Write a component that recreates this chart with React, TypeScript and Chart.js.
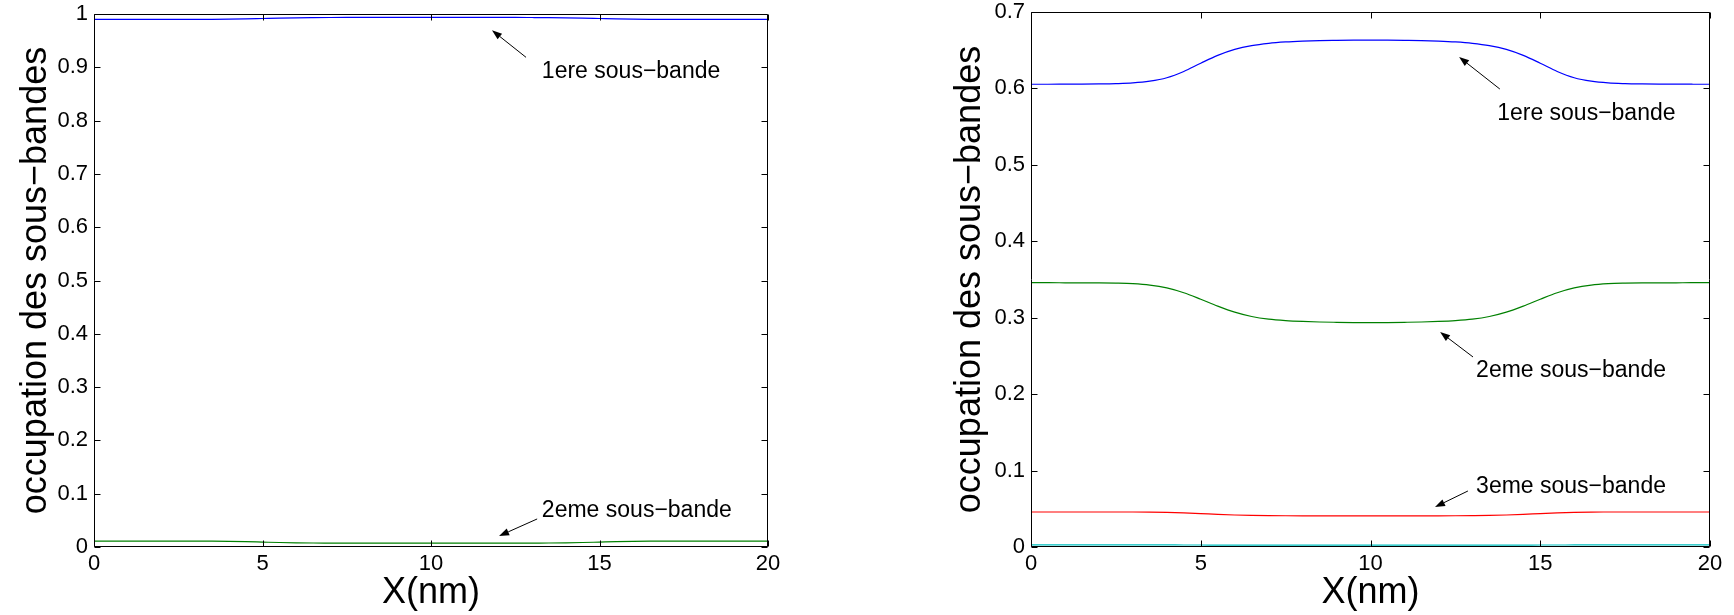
import React, { useEffect, useRef } from 'react';
import { Chart, registerables } from 'chart.js';

Chart.register(...registerables);

// ---------- data ----------
const xPositions = [
  0, 0.5, 1, 1.5, 2, 2.5, 3, 3.5, 4, 4.5, 5, 5.5, 6, 6.5, 7, 7.5, 8, 8.5, 9, 9.5, 10,
  10.5, 11, 11.5, 12, 12.5, 13, 13.5, 14, 14.5, 15, 15.5, 16, 16.5, 17, 17.5, 18, 18.5, 19, 19.5, 20,
];

const xTickValues = [0, 5, 10, 15, 20];
const xTickLabels = ['0', '5', '10', '15', '20'];
const yTickValuesLeft = [0, 0.1, 0.2, 0.3, 0.4, 0.5, 0.6, 0.7, 0.8, 0.9, 1];
const yTickLabelsLeft = ['0', '0.1', '0.2', '0.3', '0.4', '0.5', '0.6', '0.7', '0.8', '0.9', '1'];
const yTickValuesRight = [0, 0.1, 0.2, 0.3, 0.4, 0.5, 0.6, 0.7];
const yTickLabelsRight = ['0', '0.1', '0.2', '0.3', '0.4', '0.5', '0.6', '0.7'];

// left panel
const leftBand1 = [
  0.9898, 0.9898, 0.9898, 0.9898, 0.9898, 0.9898, 0.9898, 0.9899, 0.9902, 0.9908, 0.9916,
  0.9924, 0.9929, 0.9932, 0.9934, 0.9935, 0.9935, 0.9935, 0.9935, 0.9935, 0.9935, 0.9935,
  0.9935, 0.9935, 0.9935, 0.9935, 0.9934, 0.9932, 0.9929, 0.9924, 0.9916, 0.9908, 0.9902,
  0.9899, 0.9898, 0.9898, 0.9898, 0.9898, 0.9898, 0.9898, 0.9898,
];
const leftBand2 = [
  0.011, 0.011, 0.011, 0.011, 0.011, 0.011, 0.011, 0.0109, 0.0106, 0.01, 0.0092,
  0.0084, 0.0078, 0.0075, 0.0074, 0.0073, 0.0073, 0.0073, 0.0073, 0.0073, 0.0073, 0.0073,
  0.0073, 0.0073, 0.0073, 0.0073, 0.0074, 0.0075, 0.0078, 0.0084, 0.0092, 0.01, 0.0106,
  0.0109, 0.011, 0.011, 0.011, 0.011, 0.011, 0.011, 0.011,
];
const leftBand3 = [
  0.0004, 0.0004, 0.0004, 0.0004, 0.0004, 0.0004, 0.0004, 0.0004, 0.0004, 0.0004, 0.0003,
  0.0003, 0.0003, 0.0003, 0.0003, 0.0003, 0.0003, 0.0003, 0.0003, 0.0003, 0.0003, 0.0003,
  0.0003, 0.0003, 0.0003, 0.0003, 0.0003, 0.0003, 0.0003, 0.0003, 0.0003, 0.0004, 0.0004,
  0.0004, 0.0004, 0.0004, 0.0004, 0.0004, 0.0004, 0.0004, 0.0004,
];
const leftBand4 = [
  0, 0, 0, 0, 0, 0, 0, 0, 0, 0, 0, 0, 0, 0, 0, 0, 0, 0, 0, 0, 0,
  0, 0, 0, 0, 0, 0, 0, 0, 0, 0, 0, 0, 0, 0, 0, 0, 0, 0, 0, 0,
];

// right panel
const rightBand1 = [
  0.6055, 0.6055, 0.6056, 0.6057, 0.6059, 0.6063, 0.6072, 0.6095, 0.614, 0.6222, 0.633,
  0.6432, 0.651, 0.656, 0.659, 0.6608, 0.6619, 0.6626, 0.6629, 0.6631, 0.6632, 0.6631,
  0.6629, 0.6626, 0.6619, 0.6608, 0.659, 0.656, 0.651, 0.6432, 0.633, 0.6222, 0.614,
  0.6095, 0.6072, 0.6063, 0.6059, 0.6057, 0.6056, 0.6055, 0.6055,
];
const rightBand2 = [
  0.3458, 0.3458, 0.3457, 0.3456, 0.3455, 0.3452, 0.3445, 0.3427, 0.339, 0.3327, 0.3242,
  0.3152, 0.3073, 0.3016, 0.2981, 0.2962, 0.2951, 0.2944, 0.294, 0.2937, 0.2936, 0.2937,
  0.294, 0.2944, 0.2951, 0.2962, 0.2981, 0.3016, 0.3073, 0.3152, 0.3242, 0.3327, 0.339,
  0.3427, 0.3445, 0.3452, 0.3455, 0.3456, 0.3457, 0.3458, 0.3458,
];
const rightBand3 = [
  0.0458, 0.0458, 0.0458, 0.0458, 0.0458, 0.0458, 0.0458, 0.0457, 0.0453, 0.0446, 0.0437,
  0.0427, 0.0419, 0.0414, 0.0411, 0.0409, 0.0408, 0.04075, 0.0407, 0.04065, 0.0406, 0.04065,
  0.0407, 0.04075, 0.0408, 0.0409, 0.0411, 0.0414, 0.0419, 0.0427, 0.0437, 0.0446, 0.0453,
  0.0457, 0.0458, 0.0458, 0.0458, 0.0458, 0.0458, 0.0458, 0.0458,
];
const rightBand4 = [
  0.0027, 0.0027, 0.0027, 0.0027, 0.0027, 0.0027, 0.0027, 0.0027, 0.0027, 0.0026, 0.0026,
  0.0025, 0.0025, 0.0025, 0.0025, 0.0025, 0.0025, 0.0025, 0.0025, 0.0025, 0.0025, 0.0025,
  0.0025, 0.0025, 0.0025, 0.0025, 0.0025, 0.0025, 0.0025, 0.0025, 0.0026, 0.0026, 0.0027,
  0.0027, 0.0027, 0.0027, 0.0027, 0.0027, 0.0027, 0.0027, 0.0027,
];
const rightBand5 = [
  0.0002, 0.0002, 0.0002, 0.0002, 0.0002, 0.0002, 0.0002, 0.0002, 0.0002, 0.0002, 0.0002,
  0.0002, 0.0002, 0.0002, 0.0002, 0.0002, 0.0002, 0.0002, 0.0002, 0.0002, 0.0002, 0.0002,
  0.0002, 0.0002, 0.0002, 0.0002, 0.0002, 0.0002, 0.0002, 0.0002, 0.0002, 0.0002, 0.0002,
  0.0002, 0.0002, 0.0002, 0.0002, 0.0002, 0.0002, 0.0002, 0.0002,
];
const rightBand6 = [
  0, 0, 0, 0, 0, 0, 0, 0, 0, 0, 0, 0, 0, 0, 0, 0, 0, 0, 0, 0, 0,
  0, 0, 0, 0, 0, 0, 0, 0, 0, 0, 0, 0, 0, 0, 0, 0, 0, 0, 0, 0,
];

const bandNames = ['1ere sous−bande', '2eme sous−bande', '3eme sous−bande', '4eme sous−bande', '5eme sous−bande', '6eme sous−bande'];
const xTitle = 'X(nm)';
const yTitle = 'occupation des sous−bandes';

// annotations: text anchor (tx, ty), arrow tail (ax, ay), arrow head (hx, hy), in data units
const leftAnnotations = [
  { text: bandNames[0], tx: 13.29, ty: 0.892, ax: 12.82, ay: 0.9187, hx: 11.81, hy: 0.9694 },
  { text: bandNames[1], tx: 13.29, ty: 0.0676, ax: 13.15, ay: 0.0526, hx: 12.02, hy: 0.0207 },
];
const rightAnnotations = [
  { text: bandNames[0], tx: 13.73, ty: 0.5665, ax: 13.81, ay: 0.5992, hx: 12.61, hy: 0.6411 },
  { text: bandNames[1], tx: 13.11, ty: 0.2303, ax: 13.02, ay: 0.2486, hx: 12.05, hy: 0.2813 },
  { text: bandNames[2], tx: 13.11, ty: 0.0785, ax: 12.87, ay: 0.0733, hx: 11.9, hy: 0.0523 },
];

// ---------- styling ----------
const FONT = '"Liberation Sans", Arial, Helvetica, sans-serif';
const COLORS = {
  blue: '#0000ff',
  green: '#008000',
  red: '#ff0000',
  cyan: '#00bfbf',
  magenta: '#bf00bf',
  yellow: '#a89410',
};

type Annot = { text: string; tx: number; ty: number; ax: number; ay: number; hx: number; hy: number };

function toPoints(ys: number[]) {
  return xPositions.map((x, i) => ({ x, y: ys[i] }));
}

function makeDataset(ys: number[], color: string, label: string) {
  return {
    label,
    data: toPoints(ys),
    borderColor: color,
    backgroundColor: color,
    borderWidth: 1.2,
    pointRadius: 0,
    fill: false,
    cubicInterpolationMode: 'monotone' as const,
  };
}

const axesPlugin = {
  id: 'matlabAxes',
  afterDraw(chart: any) {
    const { ctx, chartArea: a, scales } = chart;
    const xs = scales.x;
    const ys = scales.y;
    ctx.save();
    ctx.strokeStyle = '#000';
    ctx.lineWidth = 1;
    const L = Math.round(a.left) + 0.5;
    const R = Math.round(a.right) - 0.5;
    const T = Math.round(a.top) + 0.5;
    const B = Math.round(a.bottom) - 0.5;
    ctx.beginPath();
    ctx.rect(L, T, R - L, B - T);
    ctx.stroke();
    const tl = 6;
    ctx.beginPath();
    xs.ticks.forEach((t: any) => {
      const px = Math.round(xs.getPixelForValue(t.value)) + 0.5;
      ctx.moveTo(px, B);
      ctx.lineTo(px, B - tl);
      ctx.moveTo(px, T);
      ctx.lineTo(px, T + tl);
    });
    ys.ticks.forEach((t: any) => {
      const py = Math.round(ys.getPixelForValue(t.value)) + 0.5;
      ctx.moveTo(L, py);
      ctx.lineTo(L + tl, py);
      ctx.moveTo(R, py);
      ctx.lineTo(R - tl, py);
    });
    ctx.stroke();

    const annots: Annot[] = chart.options.plugins.matlabAxes?.annotations || [];
    ctx.fillStyle = '#000';
    ctx.font = `23px ${FONT}`;
    ctx.textAlign = 'left';
    ctx.textBaseline = 'middle';
    annots.forEach((an) => {
      const tx = xs.getPixelForValue(an.tx);
      const ty = ys.getPixelForValue(an.ty);
      ctx.fillText(an.text, tx, ty);
      const ax = xs.getPixelForValue(an.ax);
      const ay = ys.getPixelForValue(an.ay);
      const hx = xs.getPixelForValue(an.hx);
      const hy = ys.getPixelForValue(an.hy);
      const ang = Math.atan2(hy - ay, hx - ax);
      const hl = 10;
      const hw = 3.6;
      const bx = hx - hl * Math.cos(ang);
      const by = hy - hl * Math.sin(ang);
      ctx.beginPath();
      ctx.moveTo(ax, ay);
      ctx.lineTo(bx, by);
      ctx.stroke();
      ctx.beginPath();
      ctx.moveTo(hx, hy);
      ctx.lineTo(bx + hw * Math.sin(ang), by - hw * Math.cos(ang));
      ctx.lineTo(bx - hw * Math.sin(ang), by + hw * Math.cos(ang));
      ctx.closePath();
      ctx.fill();
    });
    ctx.restore();
  },
};

type PanelCfg = {
  width: number;
  height: number;
  areaLeft: number;
  areaRight: number;
  areaTop: number;
  areaBottom: number;
  yMax: number;
  yTickValues: number[];
  yTickLabels: string[];
  datasets: any[];
  annotations: Annot[];
  yTitlePad: number;
};

function buildConfig(p: PanelCfg): any {
  return {
    type: 'line',
    data: { datasets: p.datasets },
    plugins: [axesPlugin],
    options: {
      animation: false,
      responsive: false,
      devicePixelRatio: 1,
      events: [],
      layout: {
        padding: { left: 0, top: p.areaTop, right: p.width - p.areaRight, bottom: 0 },
      },
      plugins: {
        legend: { display: false },
        tooltip: { enabled: false },
        matlabAxes: { annotations: p.annotations },
      },
      scales: {
        x: {
          type: 'linear',
          min: 0,
          max: 20,
          grid: { display: false, drawTicks: false },
          border: { display: false },
          afterBuildTicks: (scale: any) => {
            scale.ticks = xTickValues.map((v) => ({ value: v }));
          },
          ticks: {
            autoSkip: false,
            maxRotation: 0,
            minRotation: 0,
            padding: 4,
            color: '#000',
            font: { family: FONT, size: 22 },
            callback: (_v: any, i: number) => xTickLabels[i],
          },
          title: {
            display: true,
            text: xTitle,
            color: '#000',
            font: { family: FONT, size: 36 },
            padding: { top: 0, bottom: 0 },
          },
          afterFit: (scale: any) => {
            scale.height = p.height - p.areaBottom;
            scale.paddingLeft = 0;
            scale.paddingRight = 0;
            scale.paddingTop = 0;
            scale.paddingBottom = 0;
          },
        },
        y: {
          type: 'linear',
          min: 0,
          max: p.yMax,
          grid: { display: false, drawTicks: false },
          border: { display: false },
          afterBuildTicks: (scale: any) => {
            scale.ticks = p.yTickValues.map((v) => ({ value: v }));
          },
          ticks: {
            autoSkip: false,
            padding: 6,
            color: '#000',
            font: { family: FONT, size: 22 },
            callback: (_v: any, i: number) => p.yTickLabels[i],
          },
          title: {
            display: true,
            text: yTitle,
            color: '#000',
            font: { family: FONT, size: 36 },
            padding: { top: p.yTitlePad, bottom: 0 },
          },
          afterFit: (scale: any) => {
            scale.width = p.areaLeft;
            scale.paddingLeft = 0;
            scale.paddingRight = 0;
            scale.paddingTop = 0;
            scale.paddingBottom = 0;
          },
        },
      },
    },
  };
}

function Panel({ left, cfg }: { left: number; cfg: PanelCfg }) {
  const ref = useRef<HTMLCanvasElement | null>(null);
  useEffect(() => {
    if (!ref.current) return;
    const chart = new Chart(ref.current, buildConfig(cfg));
    return () => chart.destroy();
  }, []);
  return (
    <canvas
      ref={ref}
      width={cfg.width}
      height={cfg.height}
      style={{ position: 'absolute', left, top: 0, width: cfg.width, height: cfg.height }}
    />
  );
}

const leftCfg: PanelCfg = {
  width: 860,
  height: 615,
  areaLeft: 94,
  areaRight: 768,
  areaTop: 14,
  areaBottom: 547,
  yMax: 1,
  yTickValues: yTickValuesLeft,
  yTickLabels: yTickLabelsLeft,
  yTitlePad: 14,
  annotations: leftAnnotations,
  datasets: [
    makeDataset(leftBand4, COLORS.cyan, bandNames[3]),
    makeDataset(leftBand3, COLORS.red, bandNames[2]),
    makeDataset(leftBand4, COLORS.magenta, bandNames[4]),
    makeDataset(leftBand4, COLORS.yellow, bandNames[5]),
    makeDataset(leftBand2, COLORS.green, bandNames[1]),
    makeDataset(leftBand1, COLORS.blue, bandNames[0]),
  ],
};

const rightCfg: PanelCfg = {
  width: 797,
  height: 615,
  areaLeft: 94,
  areaRight: 773,
  areaTop: 12,
  areaBottom: 547,
  yMax: 0.7,
  yTickValues: yTickValuesRight,
  yTickLabels: yTickLabelsRight,
  yTitlePad: 11,
  annotations: rightAnnotations,
  datasets: [
    makeDataset(rightBand1, COLORS.blue, bandNames[0]),
    makeDataset(rightBand2, COLORS.green, bandNames[1]),
    makeDataset(rightBand3, COLORS.red, bandNames[2]),
    makeDataset(rightBand4, COLORS.cyan, bandNames[3]),
    makeDataset(rightBand5, COLORS.magenta, bandNames[4]),
    makeDataset(rightBand6, COLORS.yellow, bandNames[5]),
  ],
};

export default function App() {
  return (
    <div
      style={{
        position: 'fixed',
        left: 0,
        top: 0,
        width: 1734,
        height: 615,
        background: '#fff',
        overflow: 'hidden',
      }}
    >
      <Panel left={0} cfg={leftCfg} />
      <Panel left={937} cfg={rightCfg} />
    </div>
  );
}
